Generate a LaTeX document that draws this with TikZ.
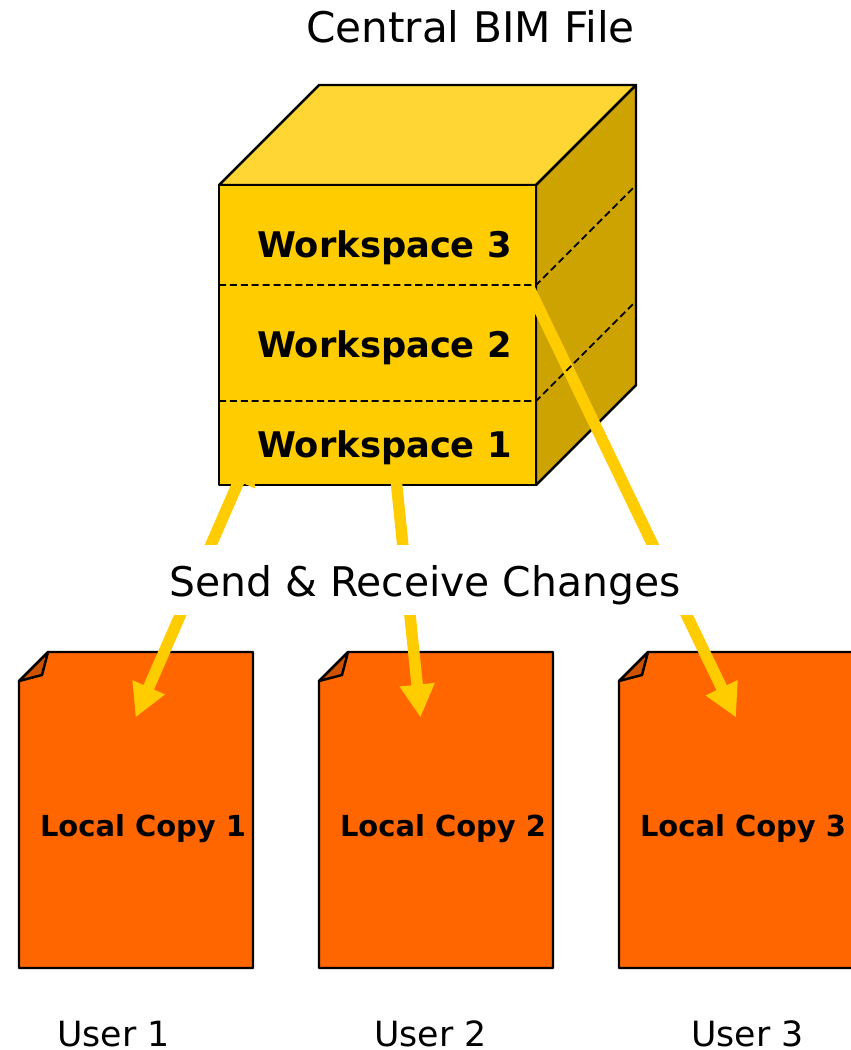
\documentclass[tikz,border=0pt]{standalone}
\usepackage{fontspec}
\setmainfont{DejaVu Sans}
\usetikzlibrary{arrows.meta,positioning}

\definecolor{cubefront}{HTML}{FFCC00}
\definecolor{cubetop}{HTML}{FFD633}
\definecolor{cubeside}{HTML}{CCA300}
\definecolor{copyface}{HTML}{FF6600}
\definecolor{copyfold}{HTML}{CC5200}

\tikzset{
    outline/.style={draw=black, line width=0.7pt, line join=round},
    layerline/.style={draw=black, line width=0.5pt, dash pattern=on 2pt off 1.1pt},
    syncarrow/.style={draw=cubefront, line width=0.115cm,
        {Triangle[length=0.33cm,width=0.33cm]}-{Triangle[length=0.33cm,width=0.33cm]}},
    workspace/.style={anchor=base, font=\fontsize{10.03}{12}\selectfont\bfseries},
    copylabel/.style={anchor=base, font=\fontsize{8.23}{10}\selectfont\bfseries},
    caption/.style={anchor=base, font=\fontsize{11.62}{14}\selectfont},
    title/.style={anchor=base, font=\fontsize{12}{14}\selectfont},
    username/.style={anchor=base, font=\fontsize{9.88}{12}\selectfont},
}

\begin{document}
\begin{tikzpicture}[x=0.01cm, y=-0.01cm]

    \useasboundingbox (0,0) rectangle (850,1050);

    \node[title] (central) at (470.5,42.5) {Central BIM File};

    \foreach \i/\x in {1/0,2/300,3/600} {
        \draw[outline, fill=copyface] (19+\x,681) -- (48+\x,652) -- (253+\x,652) -- (253+\x,968) -- (19+\x,968) -- cycle;
        \draw[outline, fill=copyfold] (19+\x,681) -- (42+\x,675) -- (48+\x,652) -- cycle;
        \node[copylabel] (copy\i) at (143+\x,836) {Local Copy \i};
    }
    \node[username] (user1) at (113.5,1046) {User 1};
    \node[username] (user2) at (430.5,1046) {User 2};
    \node[username] (user3) at (747.5,1046) {User 3};

    \draw[outline, fill=cubetop] (219,185) -- (319,85) -- (636,85) -- (536,185) -- cycle;
    \draw[outline, fill=cubeside] (536,185) -- (636,85) -- (636,385) -- (536,485) -- cycle;
    \draw[outline, fill=cubefront] (219,185) rectangle (536,485);

    \coordinate (ws1end) at (252,451);
    \coordinate (ws2end) at (391,430);
    \coordinate (ws3end) at (505,238);
    \coordinate (copy1end) at (135.5,717.5);
    \coordinate (copy2end) at (420.5,717.5);
    \coordinate (copy3end) at (736,717.5);
    \draw[syncarrow] (ws1end) -- (copy1end);
    \draw[syncarrow] (ws2end) -- (copy2end);
    \draw[syncarrow] (ws3end) -- (copy3end);

    \fill[white] (150,545) rectangle (700,615);
    \node[caption] (changes) at (425,596.5) {Send \& Receive Changes};

    \draw[layerline] (219,285) -- (536,285) -- (636,185);
    \draw[layerline] (219,401) -- (536,401) -- (636,301);

    \node[workspace] (ws3) at (384.5,257) {Workspace 3};
    \node[workspace] (ws2) at (384.5,357) {Workspace 2};
    \node[workspace] (ws1) at (384.5,457) {Workspace 1};

\end{tikzpicture}
\end{document}
